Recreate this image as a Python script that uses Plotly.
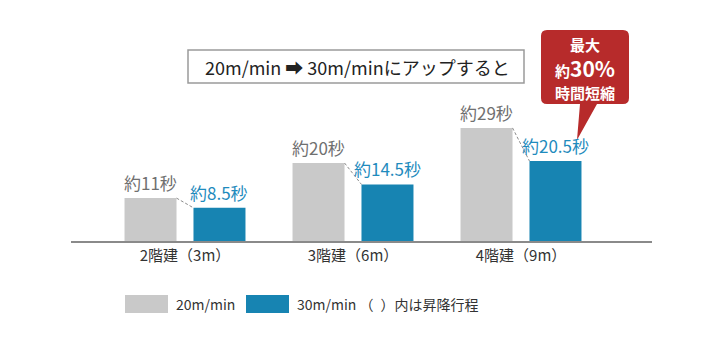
import plotly.graph_objects as go

categories = ["2階建（3m）", "3階建（6m）", "4階建（9m）"]
speed_20 = [11, 20, 29]
speed_30 = [8.5, 14.5, 20.5]
labels_20 = ["約11秒", "約20秒", "約29秒"]
labels_30 = ["約8.5秒", "約14.5秒", "約20.5秒"]
series_names = ["20m/min", "30m/min"]
title_text = "20m/min ➡ 30m/minにアップすると"
callout_lines = ["最大", "約<span style='font-size:21px'>30%</span>", "時間短縮"]
legend_note = "（\u2002）内は昇降行程"

GRAY = "#c9c9c9"
BLUE = "#1784b2"
GRAY_TXT = "#707070"
BLUE_TXT = "#1f8bbd"
RED = "#b72b2b"
FONT = "Noto Sans CJK JP"

W, H = 722, 343
PL, PR, PT, PB = 71, 652, 30, 241
BARGAP, GROUPGAP = 0.179, 0.246
slot = (1 - BARGAP) / 2
offset = slot / 2
halfw = slot * (1 - GROUPGAP) / 2
xs = list(range(len(categories)))


def px(X):
    return (X - PL) / (PR - PL)


def py(Y):
    return (PB - Y) / (PB - PT)


fig = go.Figure()
fig.add_trace(go.Bar(x=xs, y=speed_20, name=series_names[0], marker_color=GRAY,
                     marker_line_width=0, showlegend=False, hoverinfo="skip"))
fig.add_trace(go.Bar(x=xs, y=speed_30, name=series_names[1], marker_color=BLUE,
                     marker_line_width=0, showlegend=False, hoverinfo="skip"))

for i in xs:
    fig.add_trace(go.Scatter(
        x=[i - offset + halfw, i + offset - halfw], y=[speed_20[i], speed_30[i]],
        mode="lines", line=dict(color="#8c8c8c", width=1, dash="3px,2px"),
        showlegend=False, hoverinfo="skip"))

annotations = []
for i in xs:
    annotations.append(dict(x=i - offset, y=speed_20[i], xref="x", yref="y",
                            text=labels_20[i], showarrow=False, yanchor="bottom",
                            yshift=1, font=dict(family=FONT, size=17, color=GRAY_TXT)))
    annotations.append(dict(x=i + offset, y=speed_30[i], xref="x", yref="y",
                            text=labels_30[i], showarrow=False, yanchor="bottom",
                            yshift=1, font=dict(family=FONT, size=17, color=BLUE_TXT)))

# title box text
annotations.append(dict(x=px(357), y=py(67), xref="paper", yref="paper",
                        text=title_text, showarrow=False, xanchor="center", yanchor="middle",
                        font=dict(family=FONT, size=18, color="#222222")))

# callout text
for line, Y in zip(callout_lines, [44, 68, 92]):
    annotations.append(dict(x=px(585), y=py(Y), xref="paper", yref="paper",
                            text="<b>" + line + "</b>", showarrow=False,
                            xanchor="center", yanchor="middle",
                            font=dict(family=FONT, size=15, color="white")))

# legend text
annotations.append(dict(x=px(174), y=py(304), xref="paper", yref="paper",
                        text=series_names[0], showarrow=False, xanchor="left", yanchor="middle",
                        font=dict(family=FONT, size=14, color="#333333")))
annotations.append(dict(x=px(295), y=py(304), xref="paper", yref="paper",
                        text=series_names[1] + " " + legend_note, showarrow=False,
                        xanchor="left", yanchor="middle",
                        font=dict(family=FONT, size=14, color="#333333")))


def P(X, Y):
    return f"{px(X):.5f},{py(Y):.5f}"


x0, x1, y0, y1, r = 541, 629, 30, 104, 6
path = (f"M {P(x0 + r, y0)} L {P(x1 - r, y0)} Q {P(x1, y0)} {P(x1, y0 + r)} "
        f"L {P(x1, y1 - r)} Q {P(x1, y1)} {P(x1 - r, y1)} L {P(597, y1)} L {P(577, 140)} "
        f"L {P(580, y1)} L {P(x0 + r, y1)} Q {P(x0, y1)} {P(x0, y1 - r)} "
        f"L {P(x0, y0 + r)} Q {P(x0, y0)} {P(x0 + r, y0)} Z")

shapes = [
    dict(type="rect", xref="paper", yref="paper", x0=px(188), x1=px(524),
         y0=py(83), y1=py(50), line=dict(color="#9a9a9a", width=1.5), fillcolor="white"),
    dict(type="path", xref="paper", yref="paper", path=path, fillcolor=RED,
         line=dict(width=0)),
    dict(type="rect", xref="paper", yref="paper", x0=px(125), x1=px(168),
         y0=py(313), y1=py(295), line=dict(width=0), fillcolor=GRAY),
    dict(type="rect", xref="paper", yref="paper", x0=px(246), x1=px(289),
         y0=py(313), y1=py(295), line=dict(width=0), fillcolor=BLUE),
]

fig.update_layout(
    width=W, height=H,
    margin=dict(l=PL, r=W - PR, t=PT, b=H - PB, pad=0),
    paper_bgcolor="white", plot_bgcolor="white",
    barmode="group", bargap=BARGAP, bargroupgap=GROUPGAP,
    xaxis=dict(type="linear", range=[(PL - 185) / 168, (PR - 185) / 168],
               tickmode="array", tickvals=xs, ticktext=categories,
               showline=True, linecolor="#8a8a8a", linewidth=2, ticks="",
               showgrid=False, zeroline=False,
               tickfont=dict(family=FONT, size=15, color="#333333")),
    yaxis=dict(range=[0, (PB - PT) / 3.9], showgrid=False, zeroline=False,
               showticklabels=False, showline=False),
    annotations=annotations, shapes=shapes,
    font=dict(family=FONT),
)

fig.write_html("out.html")
